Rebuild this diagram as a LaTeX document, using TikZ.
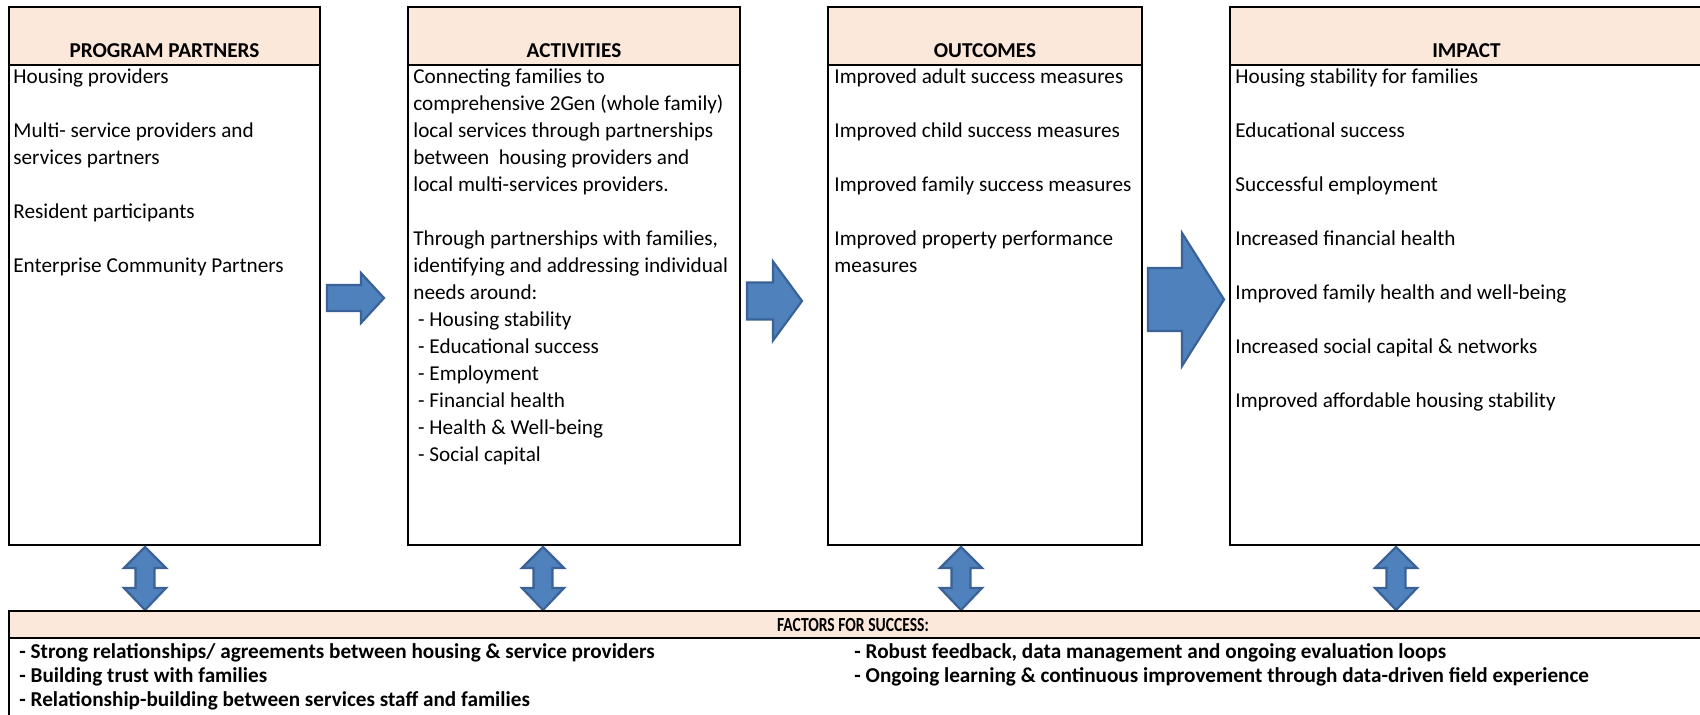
\documentclass[tikz,border=0pt]{standalone}
\usepackage{fontspec}
\usepackage{graphicx}
\setmainfont{Carlito}
\usetikzlibrary{calc}

\definecolor{hdrfill}{HTML}{FCE8DA}
\definecolor{arrowfill}{HTML}{4F81BD}
\definecolor{arrowline}{HTML}{3A6296}

% right-pointing block arrow: tail x, head base x, tip x, centre y, half shaft, half head
\newcommand\blockright[6]{%
  \draw[blockarrow] (#1,#4-#5) -- (#2,#4-#5) -- (#2,#4-#6) -- (#3,#4)
    -- (#2,#4+#6) -- (#2,#4+#5) -- (#1,#4+#5) -- cycle;}
% vertical double-headed block arrow centred at x
\newcommand\blockupdown[1]{%
  \draw[blockarrow] (#1,547) -- (#1+21,568) -- (#1+9.5,568) -- (#1+9.5,588)
    -- (#1+21,588) -- (#1,610) -- (#1-21,588) -- (#1-9.5,588) -- (#1-9.5,568)
    -- (#1-21,568) -- cycle;}

\begin{document}
\begin{tikzpicture}[x=0.5pt,y=-0.5pt,
  font=\fontsize{10.6pt}{12pt}\selectfont,
  panel/.style={draw=black, line width=1pt},
  header/.style={fill=hdrfill, draw=black, line width=1pt},
  hdrtext/.style={font=\fontsize{10.6pt}{12pt}\selectfont\bfseries, inner sep=0, anchor=center},
  item/.style={anchor=west, inner sep=0, text height=0.7em, text depth=0.2em},
  factor/.style={anchor=west, inner sep=0, text height=0.7em, text depth=0.2em,
    font=\fontsize{10.6pt}{12pt}\selectfont\bfseries},
  blockarrow/.style={fill=arrowfill, draw=arrowline, line width=1.1pt, line join=miter}]

\useasboundingbox (0,0) rectangle (1700,714);
\fill[white] (0,0) rectangle (1700,714);
\clip (0,0) rectangle (1700,714);

% ---- the four columns ----
\foreach \name/\xl/\xr/\title in {pp/9/320/PROGRAM PARTNERS, act/408/740/ACTIVITIES,
    out/828/1142/OUTCOMES, imp/1230/1703/IMPACT}{
  \draw[panel] (\xl,65) rectangle (\xr,545);
  \draw[header] (\xl,7) rectangle (\xr,65);
  \node[hdrtext] (\name-title) at ({(\xl+\xr)/2},51) {\title};
}

% ---- column texts (rows are 27 units apart) ----
\foreach \r/\t in {0/Housing providers, 2/Multi- service providers and,
    3/services partners, 5/Resident participants, 7/Enterprise Community Partners}
  \node[item] (pp-\r) at (13,78+27*\r) {\t};

\foreach \r/\t in {0/Connecting families to, 1/comprehensive 2Gen (whole family),
    2/local services through partnerships, 3/between\ \ housing providers and,
    4/local multi-services providers., 6/{Through partnerships with families,},
    7/identifying and addressing individual, 8/needs around:,
    9/\ - Housing stability, 10/\ - Educational success, 11/\ - Employment,
    12/\ - Financial health, 13/\ - Health \& Well-being, 14/\ - Social capital}
  \node[item] (act-\r) at (413,78+27*\r) {\t};

\foreach \r/\t in {0/Improved adult success measures, 2/Improved child success measures,
    4/Improved family success measures, 6/Improved property performance,
    7/measures}
  \node[item] (out-\r) at (834,78+27*\r) {\t};

\foreach \r/\t in {0/Housing stability for families, 2/Educational success,
    4/Successful employment, 6/Increased financial health,
    8/Improved family health and well-being, 10/Increased social capital \& networks,
    12/Improved affordable housing stability}
  \node[item] (imp-\r) at (1235,78+27*\r) {\t};

% ---- flow arrows between the columns ----
\blockright{327}{361}{384}{298}{13}{25}
\blockright{747}{773}{802}{301}{18.5}{39.5}
\blockright{1148}{1182}{1224}{299.5}{31.5}{66.5}

% ---- links to the success factors ----
\blockupdown{145}
\blockupdown{543}
\blockupdown{961}
\blockupdown{1396}

% ---- factors for success ----
\draw[panel] (9,638) rectangle (1705,720);
\draw[header] (9,611) rectangle (1705,638);
\node[hdrtext, font=\fontsize{10pt}{11pt}\selectfont\bfseries] (fs-title) at (853,625)
  {\scalebox{0.78}[1]{FACTORS FOR SUCCESS:}};

\node[factor] (fs-1) at (19,653) {- Strong relationships/ agreements between housing \& service providers};
\node[factor] (fs-2) at (19,677) {- Building trust with families};
\node[factor] (fs-3) at (19,701) {- Relationship-building between services staff and families};
\node[factor] (fs-4) at (854,653) {- Robust feedback, data management and ongoing evaluation loops};
\node[factor] (fs-5) at (854,677) {- Ongoing learning \& continuous improvement through data-driven field experience};
\end{tikzpicture}
\end{document}
